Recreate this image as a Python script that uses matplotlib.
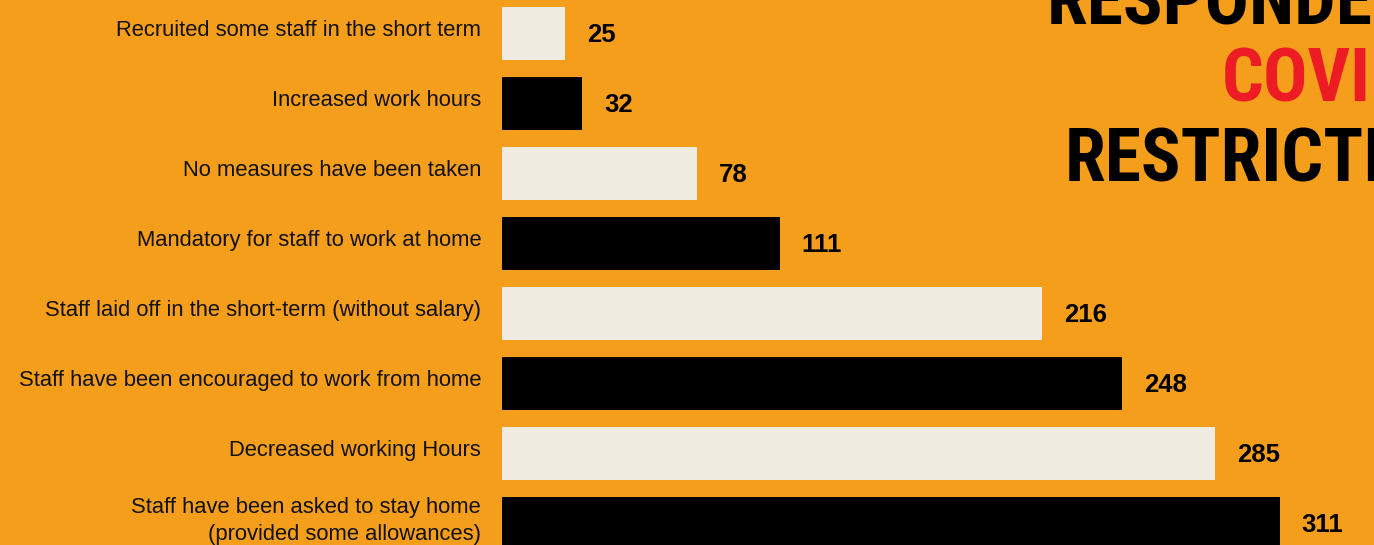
import matplotlib.pyplot as plt

# survey answers, top to bottom as shown in the graphic
measures = ['Recruited some staff in the short term',
            'Increased work hours',
            'No measures have been taken',
            'Mandatory for staff to work at home',
            'Staff laid off in the short-term (without salary)',
            'Staff have been encouraged to work from home',
            'Decreased working Hours',
            'Staff have been asked to stay home\n(provided some allowances)']
counts = [25, 32, 78, 111, 216, 248, 285, 311]

title_lines = ["RESPONDENTS'", 'COVID-19', 'RESTRICTIONS']
title_colors = ['black', '#ED1C24', 'black']

orange = '#F59E1B'
cream = '#EFEBE1'
bar_colors = [cream if i % 2 == 0 else 'black' for i in range(len(counts))]

fig = plt.figure(figsize=(13.74, 5.45), dpi=100, facecolor=orange)
ax = fig.add_axes([0, 0, 1, 1])
ax.set_facecolor(orange)

ypos = list(range(len(counts)))
ax.barh(ypos, counts, height=0.76, color=bar_colors)

for y, name, n in zip(ypos, measures, counts):
    ax.annotate(name, xy=(0, y), xytext=(-15, 2), textcoords='offset points',
                ha='right', va='center', multialignment='right',
                fontsize=15.8, family='Liberation Sans', color='#111111',
                linespacing=1.4)
    ax.annotate(str(n), xy=(n, y), xytext=(16, -1), textcoords='offset points',
                ha='left', va='center', fontsize=18.5, fontweight='bold',
                family='Liberation Sans', color='black')

# px per unit ~2.5, bars start at x=502px
ax.set_xlim(-200.8, 348.8)
ax.set_ylim(7.307, -0.479)
ax.axis('off')

# title block, clipped at the right edge like the original
title_x = [1047, 1222, 1065]
title_y = [23, 102, 181]
for txt, col, x, y in zip(title_lines, title_colors, title_x, title_y):
    fig.text(x / 1374, 1 - y / 545, txt, color=col, ha='left', va='baseline',
             fontsize=53, fontweight='bold',
             family=['Roboto Condensed', 'Liberation Sans Narrow', 'Liberation Sans'])

plt.savefig('out.png', dpi=100, facecolor=orange)
